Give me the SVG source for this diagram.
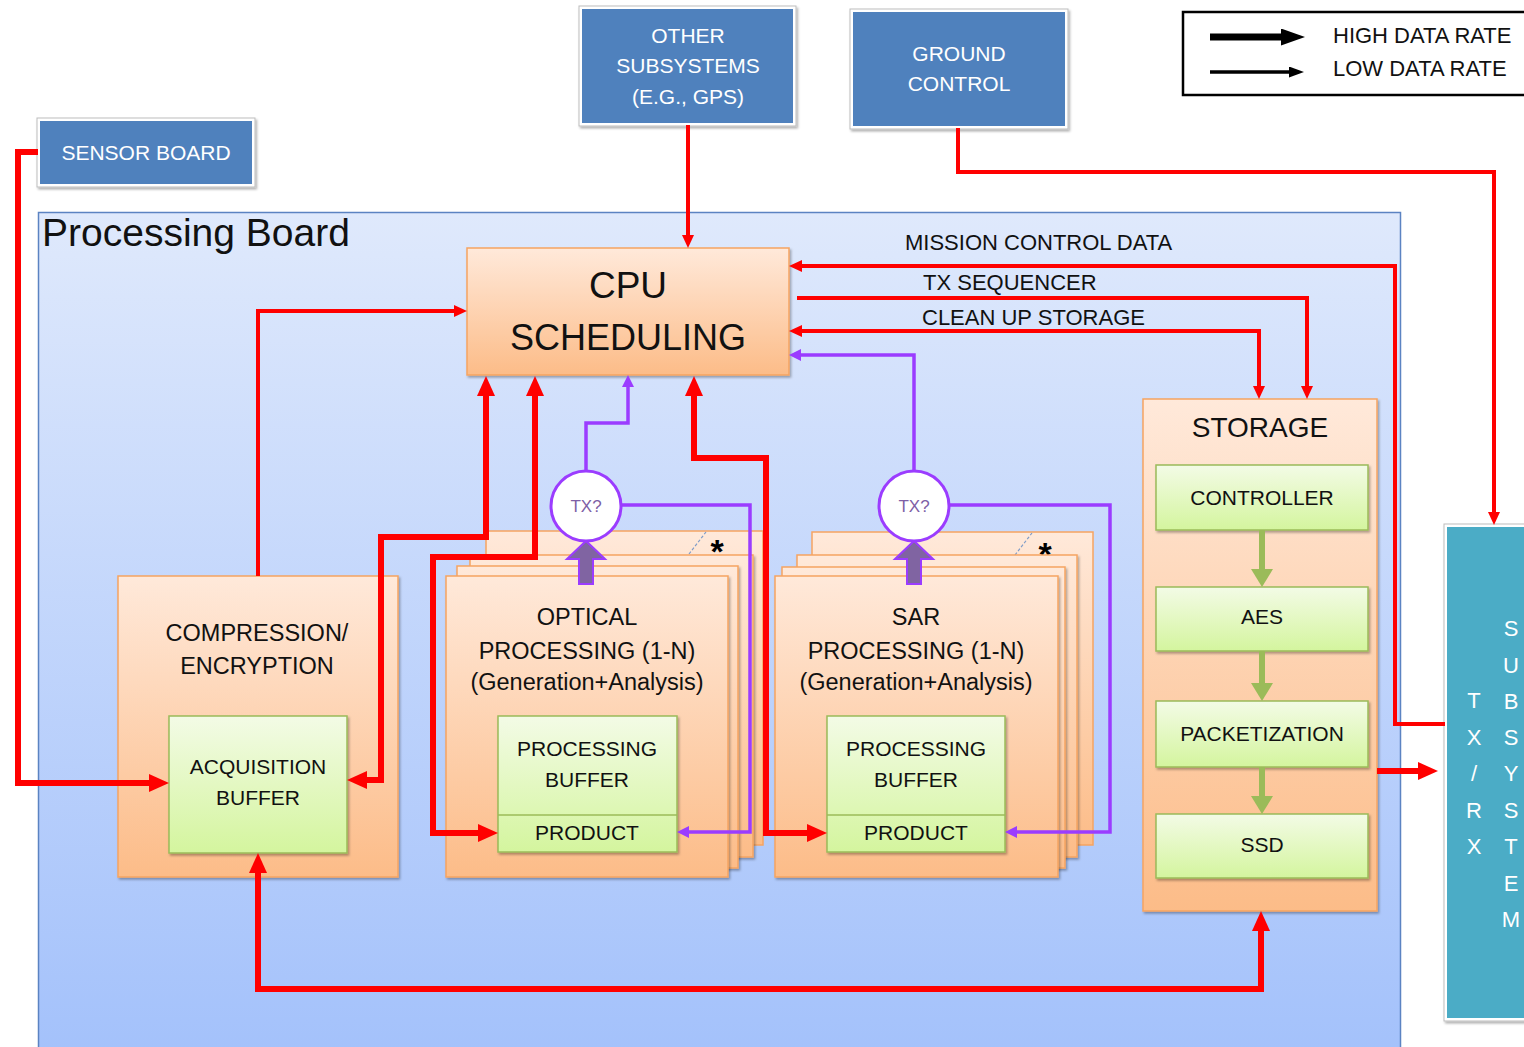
<svg xmlns="http://www.w3.org/2000/svg" width="1524" height="1047" viewBox="0 0 1524 1047">
<defs>
  <style>
    .t { font-family: "Liberation Sans", Arial, sans-serif; text-anchor: middle; fill: #111; }
    .tl { font-family: "Liberation Sans", Arial, sans-serif; fill: #111; }
    .w { fill: #ffffff; }
    .s21 { font-size: 21px; }
    .s22 { font-size: 22px; }
    .s23 { font-size: 23.5px; }
    .blue-in { fill: #4f81bd; }
    .frame { fill: #ffffff; stroke: #bdbdbd; stroke-width: 1; }
    .orange { fill: url(#gOrange); stroke: #f6a462; stroke-width: 1.5; }
    .green { fill: url(#gGreen); stroke: #9bbb59; stroke-width: 1.5; }
    .red-thick { fill: none; stroke: #ff0000; stroke-width: 6; }
    .red-thin { fill: none; stroke: #ff0000; stroke-width: 4; }
    .purple { fill: none; stroke: #9b3cff; stroke-width: 3.5; }
    .green-arrow { fill: none; stroke: #9bbb59; stroke-width: 6; }
    .tx { fill: #ffffff; stroke: #9b3cff; stroke-width: 3; }
    .txt { font-family: "Liberation Sans", Arial, sans-serif; text-anchor: middle; font-size: 17px; fill: #7e5fa6; }
    .block { fill: #8064a2; stroke: #9b3cff; stroke-width: 2; }
    .dash { stroke: #7f9cc8; stroke-width: 1.2; stroke-dasharray: 3 2; fill: none; }
    .star { font-family: "Liberation Sans", Arial, sans-serif; text-anchor: middle; font-size: 34px; font-weight: bold; fill: #000; }
  </style>
  <linearGradient id="gBoard" x1="0" y1="0" x2="0" y2="1">
    <stop offset="0" stop-color="#dfe9fc"/>
    <stop offset="1" stop-color="#a3c1fb"/>
  </linearGradient>
  <linearGradient id="gOrange" x1="0" y1="0" x2="0" y2="1">
    <stop offset="0" stop-color="#ffe9da"/>
    <stop offset="1" stop-color="#fcbc88"/>
  </linearGradient>
  <linearGradient id="gGreen" x1="0" y1="0" x2="0" y2="1">
    <stop offset="0" stop-color="#f3fbe6"/>
    <stop offset="1" stop-color="#d4f59e"/>
  </linearGradient>
  <filter id="shadow" x="-5%" y="-5%" width="115%" height="115%">
    <feDropShadow dx="1.5" dy="2" stdDeviation="1.2" flood-color="#000000" flood-opacity="0.3"/>
  </filter>
  <marker id="arR" viewBox="0 0 20 18" refX="1" refY="9" markerWidth="20" markerHeight="18" markerUnits="userSpaceOnUse" orient="auto-start-reverse">
    <path d="M0,0 L20,9 L0,18 z" fill="#ff0000"/>
  </marker>
  <marker id="arRs" viewBox="0 0 13 12" refX="1" refY="6" markerWidth="13" markerHeight="12" markerUnits="userSpaceOnUse" orient="auto-start-reverse">
    <path d="M0,0 L13,6 L0,12 z" fill="#ff0000"/>
  </marker>
  <marker id="arP" viewBox="0 0 12 12" refX="1" refY="6" markerWidth="12" markerHeight="12" markerUnits="userSpaceOnUse" orient="auto">
    <path d="M0,0 L12,6 L0,12 z" fill="#9b3cff"/>
  </marker>
  <marker id="arG" viewBox="0 0 18 22" refX="1" refY="11" markerWidth="18" markerHeight="22" markerUnits="userSpaceOnUse" orient="auto">
    <path d="M0,0 L18,11 L0,22 z" fill="#9bbb59"/>
  </marker>
  <marker id="arK" viewBox="0 0 24 17" refX="1" refY="8.5" markerWidth="24" markerHeight="17" markerUnits="userSpaceOnUse" orient="auto">
    <path d="M0,0 L24,8.5 L0,17 z" fill="#000000"/>
  </marker>
  <marker id="arKs" viewBox="0 0 15 11" refX="1" refY="5.5" markerWidth="15" markerHeight="11" markerUnits="userSpaceOnUse" orient="auto">
    <path d="M0,0 L15,5.5 L0,11 z" fill="#000000"/>
  </marker>
</defs>

<rect width="1524" height="1047" fill="#ffffff"/>

<!-- processing board container -->
<g id="processing-board">
  <rect x="38.5" y="212.5" width="1362" height="850" fill="url(#gBoard)" stroke="#5b83c2" stroke-width="1.5"/>
  <text class="tl" x="42" y="246" font-size="39">Processing Board</text>
</g>

<!-- external boxes -->
<g id="sensor-board">
  <rect class="frame" x="37" y="118" width="218" height="69" filter="url(#shadow)"/>
  <rect class="blue-in" x="40" y="121" width="212" height="63"/>
  <text class="t w s21" x="146" y="160">SENSOR BOARD</text>
</g>

<g id="other-subsystems">
  <rect class="frame" x="579" y="6" width="217" height="120" filter="url(#shadow)"/>
  <rect class="blue-in" x="582" y="9" width="211" height="114"/>
  <text class="t w s21" x="688" y="43">OTHER</text>
  <text class="t w s21" x="688" y="73">SUBSYSTEMS</text>
  <text class="t w s21" x="688" y="104">(E.G., GPS)</text>
</g>

<g id="ground-control">
  <rect class="frame" x="850" y="9" width="218" height="120" filter="url(#shadow)"/>
  <rect class="blue-in" x="853" y="12" width="212" height="114"/>
  <text class="t w s21" x="959" y="61">GROUND</text>
  <text class="t w s21" x="959" y="91">CONTROL</text>
</g>

<g id="legend">
  <rect x="1183" y="12" width="360" height="83" fill="#ffffff" stroke="#000000" stroke-width="2.5"/>
  <path d="M1210,37 H1282" stroke="#000000" stroke-width="7" fill="none" marker-end="url(#arK)"/>
  <path d="M1210,72 H1290" stroke="#000000" stroke-width="3.5" fill="none" marker-end="url(#arKs)"/>
  <text class="tl s22" x="1333" y="43">HIGH DATA RATE</text>
  <text class="tl s22" x="1333" y="76">LOW DATA RATE</text>
</g>

<g id="txrx-subsystem">
  <rect class="frame" x="1444" y="524" width="100" height="497" filter="url(#shadow)"/>
  <rect x="1447" y="527" width="95" height="491" fill="#4bacc6"/>
  <g class="t w" font-size="22">
    <text x="1474" y="708">T</text>
    <text x="1474" y="745">X</text>
    <text x="1474" y="781">/</text>
    <text x="1474" y="818">R</text>
    <text x="1474" y="854">X</text>
    <text x="1511" y="636">S</text>
    <text x="1511" y="673">U</text>
    <text x="1511" y="709">B</text>
    <text x="1511" y="745">S</text>
    <text x="1511" y="781">Y</text>
    <text x="1511" y="818">S</text>
    <text x="1511" y="854">T</text>
    <text x="1511" y="891">E</text>
    <text x="1511" y="927">M</text>
  </g>
</g>

<!-- inner blocks -->
<g id="cpu-scheduling">
  <rect class="orange" x="467" y="248" width="322" height="127" filter="url(#shadow)"/>
  <text class="t" x="628" y="298" font-size="37">CPU</text>
  <text class="t" x="628" y="350" font-size="36">SCHEDULING</text>
</g>

<g id="compression-encryption">
  <rect class="orange" x="118" y="576" width="280" height="301" filter="url(#shadow)"/>
  <text class="t s23" x="257" y="641">COMPRESSION/</text>
  <text class="t s23" x="257" y="674">ENCRYPTION</text>
  <g id="acquisition-buffer">
    <rect class="green" x="169" y="716" width="178" height="137" filter="url(#shadow)"/>
    <text class="t s21" x="258" y="774">ACQUISITION</text>
    <text class="t s21" x="258" y="805">BUFFER</text>
  </g>
</g>

<g id="optical-processing">
  <rect class="orange" x="486" y="531" width="277" height="314"/>
  <path class="dash" d="M689,554 L706,532"/>
  <text class="star" x="717" y="563">*</text>
  <rect class="orange" x="470" y="555" width="283" height="302" filter="url(#shadow)"/>
  <rect class="orange" x="457" y="566" width="281" height="302" filter="url(#shadow)"/>
  <rect class="orange" x="446" y="576" width="282" height="301" filter="url(#shadow)"/>
  <text class="t s23" x="587" y="625">OPTICAL</text>
  <text class="t s23" x="587" y="659">PROCESSING (1-N)</text>
  <text class="t s23" x="587" y="690">(Generation+Analysis)</text>
  <rect class="green" x="498" y="716" width="179" height="136" filter="url(#shadow)"/>
  <line x1="498" y1="815" x2="677" y2="815" stroke="#9bbb59" stroke-width="1.5"/>
  <text class="t s21" x="587" y="756">PROCESSING</text>
  <text class="t s21" x="587" y="787">BUFFER</text>
  <text class="t s21" x="587" y="840">PRODUCT</text>
</g>

<g id="sar-processing">
  <rect class="orange" x="812" y="532" width="281" height="313"/>
  <path class="dash" d="M1015,555 L1032,533"/>
  <text class="star" x="1045" y="566">*</text>
  <rect class="orange" x="797" y="555" width="280" height="302" filter="url(#shadow)"/>
  <rect class="orange" x="782" y="567" width="283" height="301" filter="url(#shadow)"/>
  <rect class="orange" x="775" y="576" width="283" height="301" filter="url(#shadow)"/>
  <text class="t s23" x="916" y="625">SAR</text>
  <text class="t s23" x="916" y="659">PROCESSING (1-N)</text>
  <text class="t s23" x="916" y="690">(Generation+Analysis)</text>
  <rect class="green" x="827" y="716" width="178" height="136" filter="url(#shadow)"/>
  <line x1="827" y1="815" x2="1005" y2="815" stroke="#9bbb59" stroke-width="1.5"/>
  <text class="t s21" x="916" y="756">PROCESSING</text>
  <text class="t s21" x="916" y="787">BUFFER</text>
  <text class="t s21" x="916" y="840">PRODUCT</text>
</g>

<g id="storage">
  <rect class="orange" x="1143" y="399" width="234" height="512" filter="url(#shadow)"/>
  <text class="t" x="1260" y="437" font-size="28">STORAGE</text>
  <rect class="green" x="1156" y="465" width="212" height="65" filter="url(#shadow)"/>
  <text class="t s21" x="1262" y="505">CONTROLLER</text>
  <rect class="green" x="1156" y="587" width="212" height="64" filter="url(#shadow)"/>
  <text class="t s21" x="1262" y="624">AES</text>
  <rect class="green" x="1156" y="701" width="212" height="66" filter="url(#shadow)"/>
  <text class="t s21" x="1262" y="741">PACKETIZATION</text>
  <rect class="green" x="1156" y="814" width="212" height="64" filter="url(#shadow)"/>
  <text class="t s21" x="1262" y="852">SSD</text>
  <path class="green-arrow" d="M1262,530 V570" marker-end="url(#arG)"/>
  <path class="green-arrow" d="M1262,651 V684" marker-end="url(#arG)"/>
  <path class="green-arrow" d="M1262,767 V797" marker-end="url(#arG)"/>
</g>

<!-- connectors -->
<g id="connectors">
  <!-- high data rate -->
  <path class="red-thick" d="M38,152 H18 V783 H150" marker-end="url(#arR)"/>
  <path class="red-thick" d="M366,780 H381 V537 H486 V395" marker-start="url(#arR)" marker-end="url(#arR)"/>
  <path class="red-thick" d="M535,395 V557 H433 V833 H479" marker-start="url(#arR)" marker-end="url(#arR)"/>
  <path class="red-thick" d="M694,395 V458 H766 V833 H808" marker-start="url(#arR)" marker-end="url(#arR)"/>
  <path class="red-thick" d="M1377,771 H1419" marker-end="url(#arR)"/>
  <path class="red-thick" d="M258,872 V989 H1261 V930" marker-start="url(#arR)" marker-end="url(#arR)"/>
  <!-- low data rate -->
  <path class="red-thin" d="M688,125 V236" marker-end="url(#arRs)"/>
  <path class="red-thin" d="M958,128 V172 H1494 V513" marker-end="url(#arRs)"/>
  <path class="red-thin" d="M258,576 V311 H455" marker-end="url(#arRs)"/>
  <path class="red-thin" d="M1445,724 H1395 V266 H801" marker-end="url(#arRs)"/>
  <path class="red-thin" d="M797,298 H1307 V387" marker-end="url(#arRs)"/>
  <path class="red-thin" d="M1259,387 V331 H801" marker-start="url(#arRs)" marker-end="url(#arRs)"/>
  <!-- transmit decision paths -->
  <path class="purple" d="M586,471 V423 H628 V386" marker-end="url(#arP)"/>
  <path class="purple" d="M621,505 H750 V832 H688" marker-end="url(#arP)"/>
  <path class="purple" d="M914,471 V355 H800" marker-end="url(#arP)"/>
  <path class="purple" d="M949,505 H1110 V832 H1016" marker-end="url(#arP)"/>
  <polygon class="block" points="579,584 579,559 567,559 586,541 605,559 593,559 593,584"/>
  <polygon class="block" points="907,584 907,559 895,559 914,541 933,559 921,559 921,584"/>
  <text class="tl s22" x="905" y="250">MISSION CONTROL DATA</text>
  <text class="tl s22" x="923" y="290">TX SEQUENCER</text>
  <text class="tl s22" x="922" y="325">CLEAN UP STORAGE</text>
</g>

<g id="tx-optical">
  <circle class="tx" cx="586" cy="506" r="35"/>
  <text class="txt" x="586" y="512">TX?</text>
</g>
<g id="tx-sar">
  <circle class="tx" cx="914" cy="506" r="35"/>
  <text class="txt" x="914" y="512">TX?</text>
</g>
</svg>
